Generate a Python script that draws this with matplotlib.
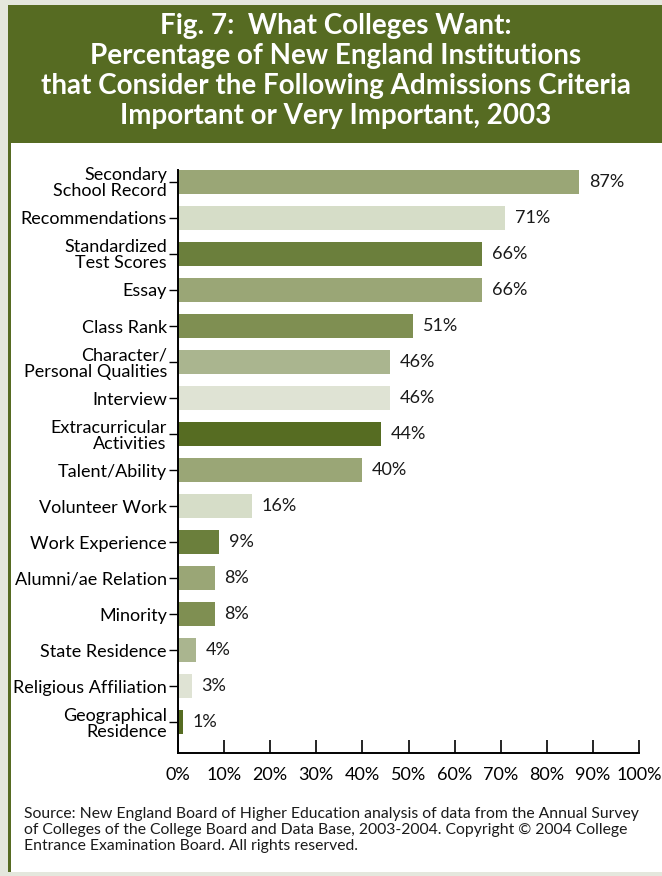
import matplotlib.pyplot as plt
from matplotlib.patches import Rectangle

# Admissions criteria, top to bottom, with share of institutions (%)
criteria = ['Secondary\nSchool Record', 'Recommendations', 'Standardized\nTest Scores',
            'Essay', 'Class Rank', 'Character/\nPersonal Qualities', 'Interview',
            'Extracurricular\nActivities', 'Talent/Ability', 'Volunteer Work',
            'Work Experience', 'Alumni/ae Relation', 'Minority', 'State Residence',
            'Religious Affiliation', 'Geographical\nResidence']
percent = [87, 71, 66, 66, 51, 46, 46, 44, 40, 16, 9, 8, 8, 4, 3, 1]
xticks = [0, 10, 20, 30, 40, 50, 60, 70, 80, 90, 100]

# repeating palette of greens
shades = ['#9aa676', '#d6ddc8', '#6b7f3c', '#9aa676', '#7f8f52', '#aab58f', '#dfe3d4', '#566c22']
colors = [shades[i % len(shades)] for i in range(len(percent))]

title = ('Fig. 7:  What Colleges Want:\n'
         'Percentage of New England Institutions\n'
         'that Consider the Following Admissions Criteria\n'
         'Important or Very Important, 2003')
source = ('Source: New England Board of Higher Education analysis of data from the Annual Survey\n'
          'of Colleges of the College Board and Data Base, 2003-2004. Copyright \u00a9 2004 College\n'
          'Entrance Examination Board. All rights reserved.')

W, H = 662, 876
plt.rcParams['font.family'] = ['Lato', 'DejaVu Sans']
fig = plt.figure(figsize=(W / 100, H / 100), dpi=100, facecolor='#e4e7dd')

# panel, header band and left stripe (kept behind the axes)
green = '#566b22'
for x0, y0, w, h, c in [(11, 872, W - 11, 872 - 143, 'white'),
                        (8, 143, W - 8, 138, green),
                        (8, 872, 3, 872 - 143, green)]:
    fig.patches.append(Rectangle((x0 / W, (H - y0) / H), w / W, h / H, zorder=-5,
                                 transform=fig.transFigure, facecolor=c, edgecolor='none'))

fig.text(336 / W, 1 - 71 / H, title, ha='center', va='center', color='white',
         fontsize=20, fontweight='bold', linespacing=1.18)

ax = fig.add_axes([178 / W, (H - 753) / H, (639 - 178) / W, (753 - 170) / H])
ax.set_facecolor('none')
y = list(range(len(percent)))
ax.barh(y, percent, height=0.667, color=colors, edgecolor='none')
for yi, v in zip(y, percent):
    ax.annotate(f'{v}%', (v, yi), xytext=(7, 0), textcoords='offset points',
                va='center', ha='left', fontsize=13, color='#1a1a1a')

ax.set_xlim(0, 100)
ax.set_ylim(15.86, -0.333)
ax.set_xticks(xticks)
ax.set_xticklabels([f'{t}%' for t in xticks], fontsize=13)
ax.set_yticks(y)
ax.set_yticklabels(criteria, fontsize=13, linespacing=1.0)
for s in ['top', 'right']:
    ax.spines[s].set_visible(False)
for s in ['left', 'bottom']:
    ax.spines[s].set_linewidth(1.4)
ax.tick_params(axis='x', direction='in', length=9.5, width=1.2, pad=10)
ax.tick_params(axis='y', direction='out', length=6.5, width=1.0, pad=1.5)

fig.text(24 / W, 1 - 830 / H, source, ha='left', va='center', fontsize=11.3,
         linespacing=1.18, color='#1a1a1a')

fig.savefig('out.png', dpi=100, facecolor=fig.get_facecolor())
